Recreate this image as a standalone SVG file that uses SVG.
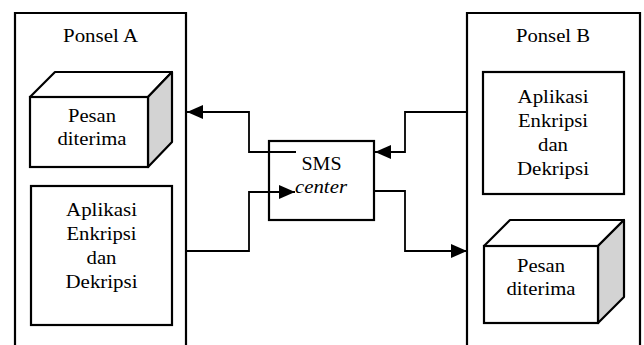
<svg xmlns="http://www.w3.org/2000/svg" width="644" height="345" viewBox="0 0 644 345">
<style>
.box{fill:#fff;stroke:#000;stroke-width:2.2}
.side{fill:#d3d3d3;stroke:#000;stroke-width:2.2;stroke-linejoin:round}
.top{fill:#fff;stroke:#000;stroke-width:2.2;stroke-linejoin:round}
.t{font-family:"Liberation Serif","Times New Roman",serif;font-size:19px;fill:#000;text-anchor:middle}
.i{font-style:italic}
.c{fill:none;stroke:#000;stroke-width:1.8}
</style>
<defs>
<marker id="ah" viewBox="0 0 16 14" refX="16" refY="7" markerWidth="16" markerHeight="14" markerUnits="userSpaceOnUse" orient="auto">
<path d="M0,0 L16,7 L0,14 Z" fill="#000"/>
</marker>
</defs>
<g id="ponselA">
<path class="box" d="M15,350 L15,13 L186,13 L186,350"/>
<text class="t" x="100.5" y="42" textLength="75" lengthAdjust="spacingAndGlyphs">Ponsel A</text>
</g>
<g id="pesanA">
<path class="top" d="M30,97 L55,72 L172,72 L148,97 Z"/>
<path class="side" d="M148,97 L172,72 L172,142 L148,167 Z"/>
<rect class="box" x="30" y="97" width="118" height="70"/>
<text class="t" x="92" y="122" textLength="48" lengthAdjust="spacingAndGlyphs">Pesan</text>
<text class="t" x="92" y="145" textLength="69" lengthAdjust="spacingAndGlyphs">diterima</text>
</g>
<g id="aplikasiA">
<rect class="box" x="31" y="186" width="141" height="139"/>
<text class="t" x="101.5" y="216" textLength="71" lengthAdjust="spacingAndGlyphs">Aplikasi</text>
<text class="t" x="101.5" y="240" textLength="70" lengthAdjust="spacingAndGlyphs">Enkripsi</text>
<text class="t" x="101.5" y="264" textLength="30" lengthAdjust="spacingAndGlyphs">dan</text>
<text class="t" x="101.5" y="288" textLength="72" lengthAdjust="spacingAndGlyphs">Dekripsi</text>
</g>
<g id="ponselB">
<path class="box" d="M467,350 L467,13 L640,13 L640,350"/>
<text class="t" x="553" y="42" textLength="74" lengthAdjust="spacingAndGlyphs">Ponsel B</text>
</g>
<g id="aplikasiB">
<rect class="box" x="483" y="72" width="141" height="122"/>
<text class="t" x="553" y="103" textLength="71" lengthAdjust="spacingAndGlyphs">Aplikasi</text>
<text class="t" x="553" y="127" textLength="70" lengthAdjust="spacingAndGlyphs">Enkripsi</text>
<text class="t" x="553" y="151" textLength="30" lengthAdjust="spacingAndGlyphs">dan</text>
<text class="t" x="553" y="175" textLength="72" lengthAdjust="spacingAndGlyphs">Dekripsi</text>
</g>
<g id="pesanB">
<path class="top" d="M484,246 L510,220 L624,220 L598,246 Z"/>
<path class="side" d="M598,246 L624,220 L624,297 L598,323 Z"/>
<rect class="box" x="484" y="246" width="114" height="77"/>
<text class="t" x="541" y="272" textLength="48" lengthAdjust="spacingAndGlyphs">Pesan</text>
<text class="t" x="541" y="295" textLength="69" lengthAdjust="spacingAndGlyphs">diterima</text>
</g>
<g id="sms">
<rect class="box" x="269" y="141" width="105" height="79"/>
<text class="t" x="321.5" y="170" textLength="40" lengthAdjust="spacingAndGlyphs">SMS</text>
<text class="t i" x="321" y="193" textLength="52" lengthAdjust="spacingAndGlyphs">center</text>
</g>
<g id="connectors">
<path class="c" marker-end="url(#ah)" d="M296,152 L249,152 L249,112 L187,112"/>
<path class="c" marker-end="url(#ah)" d="M186,251 L249,251 L249,192 L295,192"/>
<path class="c" marker-end="url(#ah)" d="M467,112 L405,112 L405,152 L375,152"/>
<path class="c" marker-end="url(#ah)" d="M374,191 L405,191 L405,251 L467,251"/>
</g>
</svg>
